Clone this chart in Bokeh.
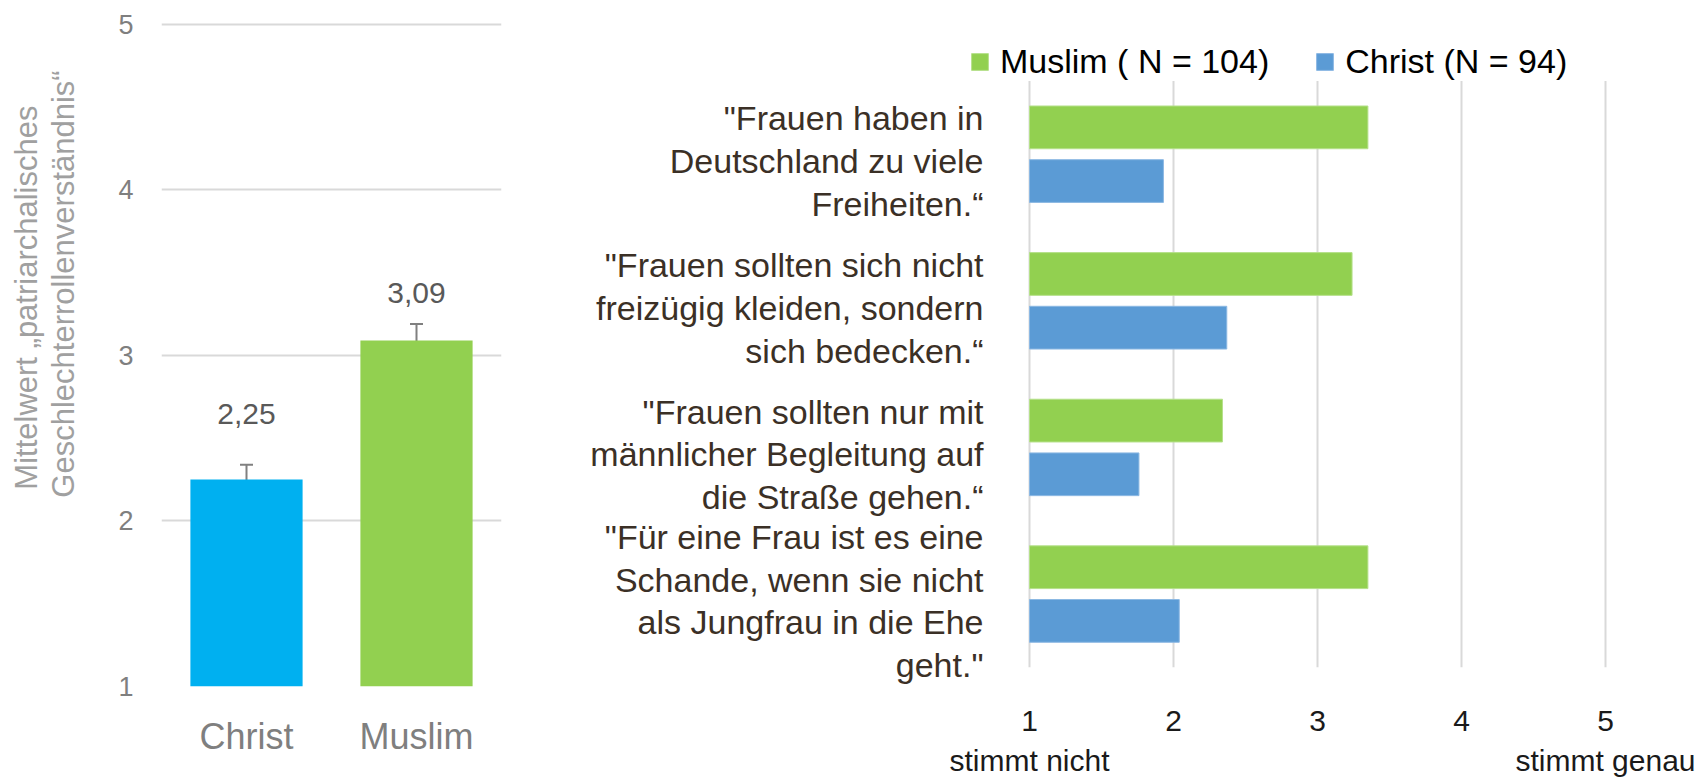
import math
from bokeh.plotting import figure
from bokeh.layouts import row
from bokeh.models import (ColumnDataSource, FixedTicker, Label, Legend, LegendItem,
                          Whisker, TeeHead)
from bokeh.embed import file_html
from bokeh.resources import INLINE

# ---------------- data ----------------
groups = ["Christ", "Muslim"]
group_means = [2.25, 3.09]
group_errors = [0.09, 0.10]
mean_labels = ["2,25", "3,09"]
left_ticks = [1, 2, 3, 4, 5]
left_title_lines = ["Mittelwert \u201epatriarchalisches",
                    "Geschlechterrollenverst\u00e4ndnis\u201c"]

statements = [
    '"Frauen haben in\nDeutschland zu viele\nFreiheiten.\u201c',
    '"Frauen sollten sich nicht\nfreiz\u00fcgig kleiden, sondern\nsich bedecken.\u201c',
    '"Frauen sollten nur mit\nm\u00e4nnlicher Begleitung auf\ndie Stra\u00dfe gehen.\u201c',
    '"F\u00fcr eine Frau ist es eine\nSchande, wenn sie nicht\nals Jungfrau in die Ehe\ngeht."',
]
muslim_scores = [3.35, 3.24, 2.34, 3.35]
christ_scores = [1.93, 2.37, 1.76, 2.04]
scale_ticks = [1, 2, 3, 4, 5]
series_names = ["Muslim ( N = 104)", "Christ (N = 94)"]
scale_ends = ["stimmt nicht", "stimmt genau"]

# ---------------- styles / layout (pixels) ----------------
LEFT_COLORS = ["#00b0f0", "#92d050"]
GREEN = "#92d050"
BLUE = "#5b9bd5"
GRID = "#d9d9d9"
TICK_GRAY = "#7f7f7f"
VALUE_GRAY = "#595959"
TITLE_GRAY = "#a0a0a0"
ERR_GRAY = "#808080"
STATEMENT_COLOR = "#3b3026"
FONT = "Liberation Sans"
label_offsets = [66, 48]

H = 779
FRAME_TOP = 22
FRAME_BOTTOM = 690
W_TITLE = 100
W_LEFT = 428
W_RIGHT = 1168
# left chart (page pixels)
L_FRAME_LEFT, L_FRAME_RIGHT = 161, 501
L_Y1_PX = 690.0          # pixel of value 1
L_PX_PER_UNIT = 166.5
title_line_x = [25.5, 62.5]      # centre of each title line (px)
title_line_bottom = [492, 500]   # where each line starts (px)
# right chart (pixels inside right figure)
R_X1_PX = 1029 - W_TITLE - W_LEFT
R_PX_PER_UNIT = 144.0
R_TOP_GROUP_PX = 154.5
R_GROUP_STEP = 147.5

ly0 = left_ticks[0] - (FRAME_BOTTOM - L_Y1_PX) / L_PX_PER_UNIT
ly1 = left_ticks[0] + (L_Y1_PX - FRAME_TOP) / L_PX_PER_UNIT

# ================= rotated y title strip =================
p0 = figure(width=W_TITLE, height=H, x_range=(0, W_TITLE), y_range=(ly0, ly1),
            output_backend="svg", toolbar_location=None,
            x_axis_location=None, y_axis_location=None,
            min_border_left=0, min_border_right=0,
            min_border_top=FRAME_TOP, min_border_bottom=H - FRAME_BOTTOM)
p0.outline_line_color = None
for g in p0.grid:
    g.visible = False
for txt, cx, by in zip(left_title_lines, title_line_x, title_line_bottom):
    p0.add_layout(Label(x=cx, y=left_ticks[0] + (L_Y1_PX - by) / L_PX_PER_UNIT,
                        text=txt, angle=math.pi / 2, text_align="left",
                        text_baseline="middle", text_font=FONT,
                        text_font_size="31px", text_color=TITLE_GRAY))

# ================= left chart =================
xs = list(range(1, len(groups) + 1))
p1 = figure(width=W_LEFT, height=H, x_range=(0.5, len(groups) + 0.5),
            y_range=(ly0, ly1),
            output_backend="svg", toolbar_location=None,
            min_border_left=L_FRAME_LEFT - W_TITLE,
            min_border_right=W_TITLE + W_LEFT - L_FRAME_RIGHT,
            min_border_top=FRAME_TOP, min_border_bottom=H - FRAME_BOTTOM)
p1.outline_line_color = None
p1.vbar(x=xs, top=group_means, bottom=left_ticks[0], width=0.66,
        fill_color=LEFT_COLORS, line_color=None)

src = ColumnDataSource(dict(base=xs,
                            upper=[m + e for m, e in zip(group_means, group_errors)],
                            lower=[m - e for m, e in zip(group_means, group_errors)]))
p1.add_layout(Whisker(source=src, base="base", upper="upper", lower="lower",
                      line_color=ERR_GRAY, line_width=2,
                      upper_head=TeeHead(size=13, line_color=ERR_GRAY, line_width=2),
                      lower_head=TeeHead(size=13, line_color=ERR_GRAY, line_width=2)))

for x, m, t, off in zip(xs, group_means, mean_labels, label_offsets):
    p1.add_layout(Label(x=x, y=m, text=t, y_offset=off, text_align="center",
                        text_baseline="alphabetic", text_font=FONT,
                        text_font_size="30px", text_color=VALUE_GRAY))

p1.yaxis.ticker = FixedTicker(ticks=left_ticks)
p1.yaxis.axis_line_color = None
p1.yaxis.major_tick_line_color = None
p1.yaxis.minor_tick_line_color = None
p1.yaxis.major_label_standoff = 22
p1.yaxis.major_label_text_font = FONT
p1.yaxis.major_label_text_font_size = "27px"
p1.yaxis.major_label_text_color = TICK_GRAY

p1.xaxis.ticker = FixedTicker(ticks=xs)
p1.xaxis.major_label_overrides = {x: g for x, g in zip(xs, groups)}
p1.xaxis.axis_line_color = None
p1.xaxis.major_tick_line_color = None
p1.xaxis.minor_tick_line_color = None
p1.xaxis.major_label_standoff = 23
p1.xaxis.major_label_text_font = FONT
p1.xaxis.major_label_text_font_size = "36px"
p1.xaxis.major_label_text_color = TICK_GRAY

p1.xgrid.visible = False
p1.ygrid.ticker = FixedTicker(ticks=left_ticks)
p1.ygrid.grid_line_color = GRID
p1.ygrid.grid_line_width = 2

# ================= right chart =================
n = len(statements)
ys = [n - i for i in range(n)]
off = 27.0 / R_GROUP_STEP
bar_h = 43.0 / R_GROUP_STEP
rx0 = scale_ticks[0] - R_X1_PX / R_PX_PER_UNIT
rx1 = scale_ticks[0] + (W_RIGHT - R_X1_PX) / R_PX_PER_UNIT
ry1 = n + (R_TOP_GROUP_PX - FRAME_TOP) / R_GROUP_STEP
ry0 = ry1 - (FRAME_BOTTOM - FRAME_TOP) / R_GROUP_STEP
p2 = figure(width=W_RIGHT, height=H, x_range=(rx0, rx1), y_range=(ry0, ry1),
            output_backend="svg", toolbar_location=None, y_axis_location=None,
            min_border_left=0, min_border_right=0,
            min_border_top=FRAME_TOP, min_border_bottom=H - FRAME_BOTTOM)
p2.outline_line_color = None
for g in p2.grid:
    g.visible = False

p2.segment(x0=scale_ticks, x1=scale_ticks, y0=[0.5] * len(scale_ticks),
           y1=[n + 0.5] * len(scale_ticks), line_color=GRID, line_width=2)

r_m = p2.hbar(y=[y + off for y in ys], left=scale_ticks[0], right=muslim_scores,
              height=bar_h, fill_color=GREEN, line_color="#b5e08a", line_width=1)
r_c = p2.hbar(y=[y - off for y in ys], left=scale_ticks[0], right=christ_scores,
              height=bar_h, fill_color=BLUE, line_color="#8cb8e3", line_width=1)

for y, s in zip(ys, statements):
    p2.add_layout(Label(x=scale_ticks[0], y=y, x_offset=-46, y_offset=-7, text=s,
                        text_align="right", text_baseline="middle",
                        text_font=FONT, text_font_size="34px",
                        text_color=STATEMENT_COLOR, text_line_height=1.125))

p2.xaxis.ticker = FixedTicker(ticks=scale_ticks)
p2.xaxis.major_label_overrides = {scale_ticks[0]: f"{scale_ticks[0]}\n{scale_ends[0]}",
                                  scale_ticks[-1]: f"{scale_ticks[-1]}\n{scale_ends[1]}"}
p2.xaxis.axis_line_color = None
p2.xaxis.major_tick_line_color = None
p2.xaxis.minor_tick_line_color = None
p2.xaxis.major_label_standoff = 11
p2.xaxis.major_label_text_font = FONT
p2.xaxis.major_label_text_font_size = "30px"
p2.xaxis.major_label_text_color = "#1a1a1a"
p2.xaxis.major_label_text_line_height = 1.22

legend = Legend(items=[LegendItem(label=series_names[0], renderers=[r_m]),
                       LegendItem(label=series_names[1], renderers=[r_c])],
                orientation="horizontal",
                location=(969 - W_TITLE - W_LEFT, FRAME_BOTTOM - 85),
                padding=0, margin=0, spacing=45, label_standoff=10,
                glyph_width=21, glyph_height=21, label_height=21,
                border_line_color=None, background_fill_alpha=0,
                label_text_font=FONT, label_text_font_size="34px",
                label_text_color="#000000")
p2.add_layout(legend)

layout = row(p0, p1, p2)
open("out.html", "w").write(file_html(layout, INLINE))
